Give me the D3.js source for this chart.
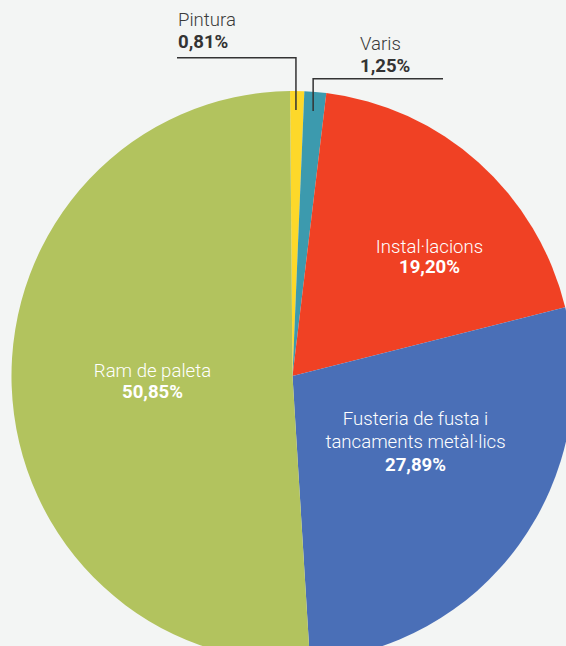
<!DOCTYPE html>
<html>
<head>
<meta charset="utf-8">
<script src="https://cdn.jsdelivr.net/npm/d3@7"></script>
<style>
  html, body { margin: 0; padding: 0; background: #f3f5f4; }
  svg { display: block; }
  text { font-family: Roboto, "Noto Sans", sans-serif; }
</style>
</head>
<body>
<svg id="chart" width="566" height="646"></svg>
<script>
// ---- data ----
const categories = ["Pintura", "Varis", "Instal·lacions", "Fusteria de fusta i tancaments metàl·lics", "Ram de paleta"];
const labelLines = [["Pintura"], ["Varis"], ["Instal·lacions"], ["Fusteria de fusta i", "tancaments metàl·lics"], ["Ram de paleta"]];
const values = [0.81, 1.25, 19.20, 27.89, 50.85];
const valueLabels = ["0,81%", "1,25%", "19,20%", "27,89%", "50,85%"];
const colors = ["#fdd82a", "#3c9aae", "#f04124", "#4a6fb7", "#b2c35e"];

// ---- layout ----
const W = 566, H = 646;
const cx = 292.5, cy = 376, R = 283;
const startA = -0.5 * Math.PI / 180;
const FS = 18.6;

const svg = d3.select("#chart");
svg.append("rect").attr("width", W).attr("height", H).attr("fill", "#f3f5f4");

const pie = d3.pie().sort(null).value(d => d).startAngle(startA).endAngle(startA + 2 * Math.PI);
const arcs = pie(values);
const arc = d3.arc().innerRadius(0).outerRadius(R);

const g = svg.append("g").attr("transform", `translate(${cx},${cy}) scale(0.993,1.007)`);
g.selectAll("path.slice").data(arcs).enter().append("path")
  .attr("class", "slice")
  .attr("d", arc)
  .attr("fill", (d, i) => colors[i]);

// inside labels (for the 3 large slices)
const inside = [
  { i: 2, x: 429.5, y: 253.3, gap: 20 },
  { i: 3, x: 415.5, y: 425, gap: 23 },
  { i: 4, x: 152.5, y: 377.3, gap: 21 }
];
inside.forEach(o => {
  const lines = labelLines[o.i];
  const t = svg.append("text").attr("fill", "#ffffff").attr("text-anchor", "middle")
    .attr("font-size", FS).attr("x", o.x).attr("y", o.y);
  lines.forEach((ln, k) => {
    t.append("tspan").attr("x", o.x).attr("y", o.y + k * o.gap).attr("font-weight", 300).text(ln);
  });
  t.append("tspan").attr("x", o.x).attr("y", o.y + lines.length * o.gap).attr("font-weight", 700).text(valueLabels[o.i]);
});

// outside labels with leader lines (small slices)
const outside = [
  { i: 0, lineY: 57.7, x1: 177, textX: 178, nameY: 25.5, valY: 47.5, right: false },
  { i: 1, lineY: 78.7, x2: 443, textX: 360, nameY: 49.5, valY: 71.5, right: true }
];
outside.forEach(o => {
  const a = arcs[o.i];
  const mid = (a.startAngle + a.endAngle) / 2;
  const px = cx + 266 * Math.sin(mid) - 1;
  const py = cy - 266 * Math.cos(mid);
  const pts = o.right
    ? [[o.x2, o.lineY], [px, o.lineY], [px, py]]
    : [[o.x1, o.lineY], [px, o.lineY], [px, py]];
  svg.append("path")
    .attr("d", d3.line()(pts))
    .attr("fill", "none")
    .attr("stroke", "#333333")
    .attr("stroke-width", 1.5);
  svg.append("text").attr("font-size", FS).attr("x", o.textX).attr("y", o.nameY)
    .attr("font-weight", 300).attr("fill", "#3a3a3a").text(labelLines[o.i][0]);
  svg.append("text").attr("font-size", FS).attr("x", o.textX).attr("y", o.valY)
    .attr("font-weight", 700).attr("fill", "#333333").text(valueLabels[o.i]);
});
</script>
</body>
</html>
